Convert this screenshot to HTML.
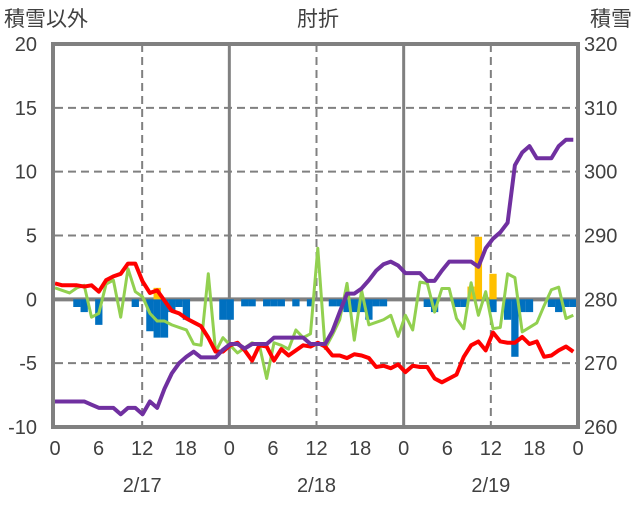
<!DOCTYPE html>
<html><head><meta charset="utf-8"><style>
body{margin:0;background:#fff;}
svg text{font-family:"Liberation Sans","Noto Sans CJK JP",sans-serif;fill:#404040;}
</style></head><body>
<svg id="chart" width="636" height="501" xmlns="http://www.w3.org/2000/svg">
<g id="grid"></g>
<g id="bars"></g>
<g id="lines"></g>
<g id="frame"></g>
<g id="labels"></g>
<text x="4" y="26" font-size="21">積雪以外</text>
<text x="318" y="26" font-size="21" text-anchor="middle">肘折</text>
<text x="590" y="26" font-size="21">積雪</text>
</svg>
<script>
const leftTicks=[20,15,10,5,0,-5,-10];
const rightTicks=[320,310,300,290,280,270,260];
const hourTicks=["0","6","12","18","0","6","12","18","0","6","12","18","0"];
const dates=["2/17","2/18","2/19"];
const redSeries=[1.25,1.1,1.1,1.1,1.0,1.1,0.6,1.5,1.8,2.0,2.8,2.8,1.4,0.5,0.7,-0.1,-0.9,-1.1,-1.5,-1.8,-2.1,-3.0,-4.1,-4.1,-3.6,-3.4,-4.0,-4.8,-3.6,-3.7,-4.8,-3.9,-4.4,-4.0,-3.6,-3.7,-3.4,-3.7,-4.4,-4.4,-4.6,-4.3,-4.4,-4.6,-5.3,-5.2,-5.4,-5.1,-5.7,-5.2,-5.3,-5.3,-6.2,-6.5,-6.2,-5.9,-4.5,-3.6,-3.3,-4.0,-2.6,-3.3,-3.4,-3.4,-2.95,-3.5,-3.3,-4.5,-4.4,-4.0,-3.7,-4.1];
const greenSeries=[0.9,0.7,0.5,0.9,1.1,-1.4,-1.1,1.2,1.5,-1.4,2.4,0.6,0.2,-1.1,-1.7,-1.7,-2.0,-2.2,-2.4,-3.5,-3.6,2.0,-4.1,-3.0,-3.6,-4.2,-3.8,-3.4,-3.6,-6.2,-3.4,-3.6,-3.9,-2.4,-3.0,-2.7,4.0,-3.85,-2.8,-1.6,1.25,-3.2,0.7,-2.0,-1.8,-1.6,-1.25,-2.9,-1.25,-2.4,1.35,1.25,-1.0,0.85,0.85,-1.5,-2.3,1.3,-1.25,0.6,-2.3,-2.2,2.0,1.7,-2.55,-2.2,-1.85,-0.5,0.75,0.95,-1.5,-1.25];
const snowDepth=[264,264,264,264,264,263.5,263,263,263,262,263,263,262,264,263,266,268.4,270,271,271.8,270.9,270.9,270.9,272.1,273,273,272.3,273,273,273,274,274,274,274,274,273,273,273,275,278,280.9,280.9,281.7,283,284.5,285.5,285.9,285.3,284.1,284.1,284.1,282.9,282.9,284.5,285.9,285.9,285.9,285.9,285.1,288,289.5,290.5,292,301,303,304,302.1,302.1,302.1,304,305,305];
const blueBars=[0,0,0,-0.6,-1.0,0,-2.0,0,0,0,0,-0.6,0,-2.5,-3.0,-3.0,-1.0,-0.6,-1.6,0,0,0,0,-1.6,-1.6,0,-0.55,-0.55,0,-0.55,-0.55,-0.55,0,-0.55,0,-0.55,0,0,-0.55,-0.55,-1.0,-1.0,-1.0,-1.6,-0.55,-0.55,0,0,0,0,0,-0.6,-1.0,0,0,-0.6,-0.6,0,0,0,-1.0,0,-1.6,-4.5,-1.0,-1.0,0,0,-0.6,-1.0,-0.6,-0.6];
const orangeBars=[0,0,0,0,0,0,0,0,0,0,0,0,0,0,0.9,0,0,0,0,0,0,0,0,0,0,0,0,0,0,0,0,0,0,0,0,0,0,0,0,0,0,0,0,0,0,0,0,0,0,0,0,0,0,0,0,0,0,1.0,4.9,0,2.0,0,0,0,0,0,0,0,0,0,0,0];

const NS="http://www.w3.org/2000/svg";
const L=55,R=578,T=44,B=427;
const yL=v=>T+(20-v)*(B-T)/30;
const yR=v=>T+(320-v)*(B-T)/60;
const xi=i=>L+i*7.3;
const xh=h=>L+h*(R-L)/72;
function mk(tag,attrs,parent){const e=document.createElementNS(NS,tag);for(const k in attrs)e.setAttribute(k,attrs[k]);parent.appendChild(e);return e;}
const grid=document.getElementById('grid'),bars=document.getElementById('bars'),lines=document.getElementById('lines'),frame=document.getElementById('frame'),labels=document.getElementById('labels');
// horizontal gridlines
leftTicks.forEach(v=>{if(v===20||v===-10||v===0)return;
 const g=mk('line',{x1:L,x2:R,y1:yL(v),y2:yL(v),stroke:'#808080','stroke-width':2,'stroke-dasharray':'8,5'},grid);
 
 });
// vertical lines
for(let h=12;h<72;h+=12){const day=h%24===0;
 const g=mk('line',{x1:xh(h),x2:xh(h),y1:T,y2:B,stroke:'#808080','stroke-width':day?3:2,'stroke-dasharray':day?'none':'8,5'},grid);
 
 }
// bars
const bw=7.3;
blueBars.forEach((v,i)=>{if(!v)return;
 const b=mk('rect',{x:xi(i)-bw/2,y:yL(0),width:bw,height:yL(v)-yL(0),fill:'#0070c0'},bars);
 
 });
orangeBars.forEach((v,i)=>{if(!v)return;
 const b=mk('rect',{x:xi(i)-bw/2,y:yL(v),width:bw,height:yL(0)-yL(v),fill:'#ffc000'},bars);
 
 });
// zero line
const z=mk('line',{x1:L,x2:R,y1:yL(0),y2:yL(0),stroke:'#808080','stroke-width':4},grid);


// lines
function poly(arr,fy,color,w,name){const p=mk('polyline',{points:arr.map((v,i)=>xi(i)+','+fy(v)).join(' '),fill:'none',stroke:color,'stroke-width':w,'stroke-linejoin':'round'},lines);
 
 }
poly(greenSeries,yL,'#92d050',3,'green-series-line');
poly(redSeries,yL,'#ff0000',4,'red-series-line');
poly(snowDepth,yR,'#7030a0',4,'snow-depth-line');
// frame
const f=mk('rect',{x:L-2,y:T,width:R-L+2,height:B-T,fill:'none',stroke:'#808080','stroke-width':4},frame);


// labels
leftTicks.forEach(v=>{const t=mk('text',{x:37,y:yL(v)+7,'font-size':20,'text-anchor':'end'},labels);t.textContent=v;
 
 });
rightTicks.forEach(v=>{const t=mk('text',{x:584,y:yR(v)+7,'font-size':20},labels);t.textContent=v;
 
 });
hourTicks.forEach((s,k)=>{const t=mk('text',{x:xh(k*6),y:455,'font-size':20,'text-anchor':'middle'},labels);t.textContent=s;
 
 });
dates.forEach((s,k)=>{const t=mk('text',{x:xh(12+k*24),y:492,'font-size':20,'text-anchor':'middle'},labels);t.textContent=s;
 
 });
</script>
</body></html>
